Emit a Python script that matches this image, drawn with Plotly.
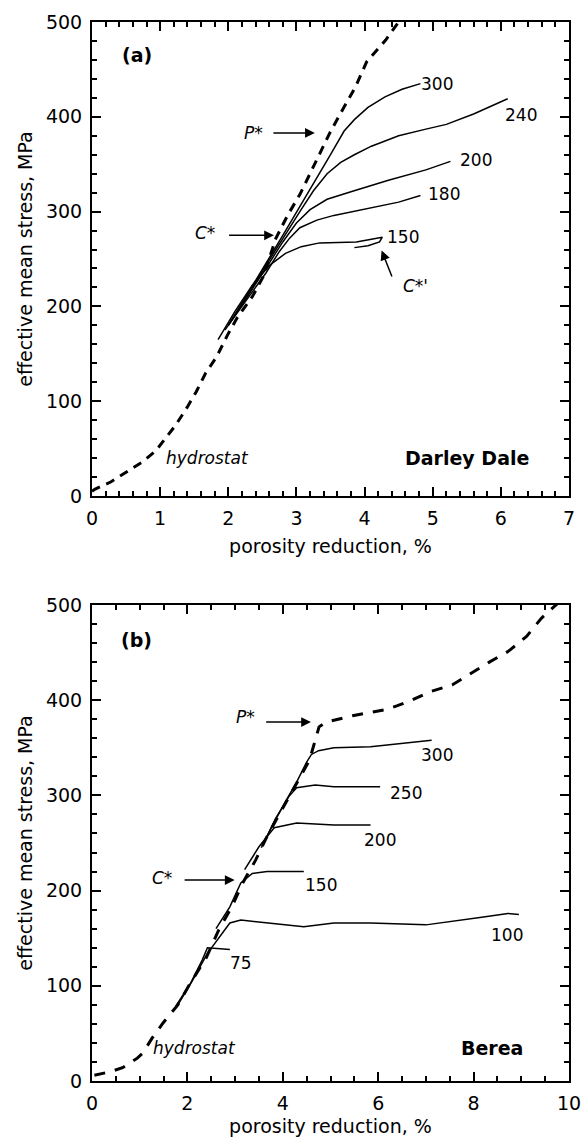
import plotly.graph_objects as go

# ---------------- Panel (a) Darley Dale ----------------
hydro_a_x = [0.0, 0.04, 0.28, 0.53, 0.74, 0.94, 1.07, 1.23, 1.40, 1.53, 1.67, 1.83, 1.99, 2.13, 2.35, 2.51,
             2.70, 2.87, 3.05, 3.25, 3.49, 3.65, 3.87, 4.03, 4.31, 4.55]
hydro_a_y = [5, 7, 15, 26, 36, 48, 60, 75, 94, 110, 130, 147, 170, 188, 210, 231,
             272, 296, 318, 348, 383, 404, 432, 458, 481, 505]

a300_x = [2.0, 2.3, 2.55, 2.8, 3.05, 3.3, 3.5, 3.7, 3.85, 4.05, 4.3, 4.55, 4.82]
a300_y = [180, 215, 245, 275, 305, 335, 360, 385, 397, 410, 421, 429, 435]
a240_x = [2.0, 2.3, 2.55, 2.8, 3.05, 3.25, 3.45, 3.65, 3.85, 4.1, 4.5, 4.9, 5.2, 5.6, 5.9, 6.1]
a240_y = [180, 213, 243, 272, 300, 322, 340, 352, 360, 369, 380, 387, 392, 403, 413, 419]
a200_x = [2.0, 2.3, 2.55, 2.8, 3.0, 3.2, 3.45, 3.8, 4.35, 4.9, 5.26]
a200_y = [180, 212, 240, 268, 288, 302, 313, 321, 333, 344, 353]
a180_x = [1.95, 2.3, 2.55, 2.75, 2.9, 3.05, 3.3, 3.55, 4.1, 4.5, 4.82]
a180_y = [175, 210, 235, 258, 272, 283, 291, 296, 304, 310, 317]
a150_x = [1.85, 2.1, 2.35, 2.6, 2.84, 3.07, 3.34, 3.88, 4.04, 4.26, 4.22, 4.05, 3.85]
a150_y = [165, 195, 222, 243, 256, 263, 267, 268, 270, 273, 268, 264, 262]

a_labels = ["300", "240", "200", "180", "150"]
a_label_x = [5.07, 6.30, 5.63, 5.17, 4.57]
a_label_y = [435, 402, 354, 319, 273]

# ---------------- Panel (b) Berea ----------------
hydro_b_x = [0.05, 0.4, 0.64, 0.95, 1.06, 1.26, 1.49, 1.8, 2.04, 2.27, 2.39, 2.66, 2.93, 3.16, 3.43, 3.67,
             3.94, 4.17, 4.41, 4.56, 4.68, 4.76, 4.91, 5.49, 6.15, 6.39, 6.70, 7.09, 7.55, 7.94, 8.33,
             8.72, 9.11, 9.42, 9.77]
hydro_b_y = [6, 10, 14, 24, 29, 45, 61, 80, 101, 120, 129, 159, 183, 208, 232, 257,
             281, 302, 323, 337, 358, 372, 377, 384, 390, 394, 400, 409, 416, 428, 440,
             451, 467, 486, 502]

b300_x = [3.55, 3.8, 4.05, 4.3, 4.5, 4.6, 4.75, 5.07, 5.84, 6.62, 7.12]
b300_y = [245, 270, 293, 315, 335, 343, 347, 350, 351, 355, 358]
b250_x = [3.6, 3.85, 4.13, 4.29, 4.68, 5.07, 6.04]
b250_y = [250, 276, 299, 308, 311, 309, 309]
b200_x = [3.2, 3.5, 3.82, 4.29, 5.07, 5.84]
b200_y = [222, 246, 266, 271, 269, 269]
b150_x = [2.6, 2.89, 3.12, 3.36, 3.67, 4.44]
b150_y = [160, 183, 208, 218, 220, 220]
b100_x = [1.8, 2.1, 2.42, 2.74, 2.89, 3.12, 3.51, 4.44, 5.07, 5.84, 7.0, 7.4, 8.17, 8.72, 8.95]
b100_y = [80, 105, 134, 155, 166, 169, 167, 162, 166, 166, 164, 167, 172, 176, 175]
b75_x = [1.75, 2.07, 2.31, 2.42, 2.89]
b75_y = [78, 103, 127, 140, 138]

b_labels = ["300", "250", "200", "150", "100", "75"]
b_label_x = [7.23, 6.59, 6.04, 4.80, 8.69, 3.13]
b_label_y = [342, 302, 253, 206, 153, 124]

# tick-mark positions (interior only; the frame lines cover the end positions)
xa_major = [1, 2, 3, 4, 5, 6]
xa_minor = [round(0.2 * i, 1) for i in range(1, 35) if i % 5 != 0]
y_major = [100, 200, 300, 400]
y_minor = [20 * i for i in range(1, 25) if i % 5 != 0]
xb_major = [2, 4, 6, 8]
xb_minor = [0.5 * i for i in range(1, 20) if i % 4 != 0]

FONT = "DejaVu Sans"
fig = go.Figure()

def solid(x, y, xa, ya):
    fig.add_trace(go.Scatter(x=x, y=y, mode="lines", xaxis=xa, yaxis=ya,
                             line=dict(color="black", width=1.5), showlegend=False, hoverinfo="skip"))

fig.add_trace(go.Scatter(x=hydro_a_x, y=hydro_a_y, mode="lines", xaxis="x", yaxis="y",
                         line=dict(color="black", width=3, dash="9px,7px"), showlegend=False))
for xs, ys in [(a300_x, a300_y), (a240_x, a240_y), (a200_x, a200_y), (a180_x, a180_y), (a150_x, a150_y)]:
    solid(xs, ys, "x", "y")

fig.add_trace(go.Scatter(x=hydro_b_x, y=hydro_b_y, mode="lines", xaxis="x2", yaxis="y2",
                         line=dict(color="black", width=3, dash="11px,10px"), showlegend=False))
for xs, ys in [(b300_x, b300_y), (b250_x, b250_y), (b200_x, b200_y), (b150_x, b150_y),
               (b100_x, b100_y), (b75_x, b75_y)]:
    solid(xs, ys, "x2", "y2")

# invisible carriers so the tick-only overlay axes are drawn
fig.add_trace(go.Scatter(x=hydro_a_x, y=hydro_a_y, mode="lines", xaxis="x3", yaxis="y3", opacity=0,
                         line=dict(width=1, color="rgba(0,0,0,0)"), showlegend=False, hoverinfo="skip"))
fig.add_trace(go.Scatter(x=hydro_b_x, y=hydro_b_y, mode="lines", xaxis="x4", yaxis="y4", opacity=0,
                         line=dict(width=1, color="rgba(0,0,0,0)"), showlegend=False, hoverinfo="skip"))

ann = []
def text(x, y, t, xr, yr, size=17, bold=False, italic=False):
    s = t
    if bold:
        s = "<b>" + s + "</b>"
    if italic:
        s = "<i>" + s + "</i>"
    ann.append(dict(x=x, y=y, xref=xr, yref=yr, text=s, showarrow=False,
                    xanchor="center", yanchor="middle", font=dict(family=FONT, size=size, color="black")))

def arrow(x0, y0, x1, y1, xr, yr):
    ann.append(dict(x=x1, y=y1, ax=x0, ay=y0, xref=xr, yref=yr, axref=xr, ayref=yr, text="",
                    showarrow=True, arrowhead=2, arrowsize=1.3, arrowwidth=1.5, arrowcolor="black"))

for t, x, y in zip(a_labels, a_label_x, a_label_y):
    text(x, y, t, "x", "y")
for t, x, y in zip(b_labels, b_label_x, b_label_y):
    text(x, y, t, "x2", "y2")

# panel a annotations
text(0.66, 465, "(a)", "x", "y", size=19, bold=True)
text(5.51, 40, "Darley Dale", "x", "y", size=19, bold=True)
text(1.69, 40, "hydrostat", "x", "y", italic=True)
text(2.37, 383, "P*", "x", "y", italic=True)
arrow(2.64, 383, 3.27, 383, "x", "y")
text(1.66, 277, "C*", "x", "y", italic=True)
arrow(1.99, 275, 2.67, 275, "x", "y")
text(4.75, 222, "C*'", "x", "y", italic=True)
arrow(4.41, 230, 4.25, 259, "x", "y")

# panel b annotations
text(0.93, 463, "(b)", "x2", "y2", size=19, bold=True)
text(8.38, 35, "Berea", "x2", "y2", size=19, bold=True)
text(2.15, 35, "hydrostat", "x2", "y2", italic=True)
text(3.22, 382, "P*", "x2", "y2", italic=True)
arrow(3.62, 377, 4.59, 377, "x2", "y2")
text(1.46, 213, "C*", "x2", "y2", italic=True)
arrow(1.91, 211, 2.99, 211, "x2", "y2")

def main_axis(rng, dtick, title, anchor, domain=None, standoff=10):
    d = dict(range=rng, dtick=dtick, tick0=0, ticks="", showline=True, linewidth=2, linecolor="#000000",
             mirror=True, showgrid=False, zeroline=False, anchor=anchor,
             tickfont=dict(family=FONT, size=19, color="black"), ticklabelstandoff=4,
             title=dict(text=title, font=dict(family=FONT, size=19, color="black"), standoff=standoff))
    if domain is not None:
        d["domain"] = domain
    return d

def tick_axis(rng, major, minor, overlay, anchor):
    return dict(range=rng, tickmode="array", tickvals=major, ticks="inside", ticklen=9, tickwidth=2,
                tickcolor="#000000", mirror="ticks", showline=False,
                showgrid=False, zeroline=False, showticklabels=False, overlaying=overlay, anchor=anchor,
                minor=dict(tickmode="array", tickvals=minor, ticks="inside", ticklen=5, tickwidth=2,
                           tickcolor="#000000", showgrid=False))

fig.update_layout(
    width=582, height=1137,
    margin=dict(l=92, r=13, t=22, b=56, autoexpand=False),
    paper_bgcolor="white", plot_bgcolor="white",
    font=dict(family=FONT, color="black"),
    xaxis=main_axis([0, 7], 1, "porosity reduction, %", "y", standoff=12),
    yaxis=main_axis([0, 500], 100, "effective mean stress, MPa", "x", domain=[0.5524, 1], standoff=8),
    xaxis2=main_axis([0, 10], 2, "porosity reduction, %", "y2", standoff=10),
    yaxis2=main_axis([0, 500], 100, "effective mean stress, MPa", "x2", domain=[0, 0.4495], standoff=8),
    xaxis3=tick_axis([0, 7], xa_major, xa_minor, "x", "y3"),
    yaxis3=tick_axis([0, 500], y_major, y_minor, "y", "x3"),
    xaxis4=tick_axis([0, 10], xb_major, xb_minor, "x2", "y4"),
    yaxis4=tick_axis([0, 500], y_major, y_minor, "y2", "x4"),
    annotations=ann,
    showlegend=False,
)

fig.write_html("out.html")
